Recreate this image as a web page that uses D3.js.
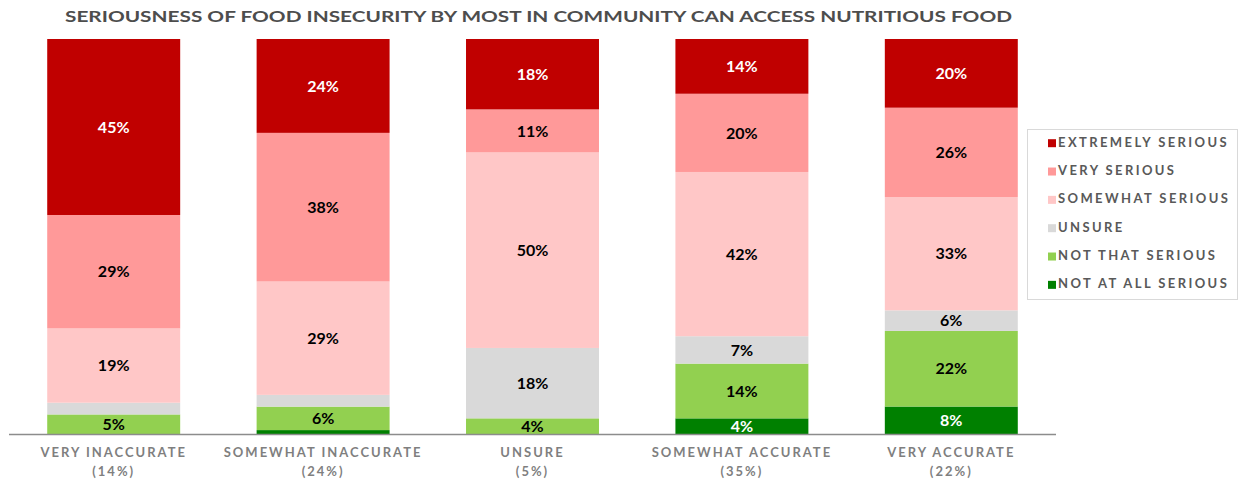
<!DOCTYPE html>
<html>
<head>
<meta charset="utf-8">
<script src="https://cdn.jsdelivr.net/npm/d3@7"></script>
<style>
  html, body { margin: 0; padding: 0; background: #fff; }
  svg { display: block; }
  text { font-family: Lato, "Open Sans", "Liberation Sans", sans-serif; font-weight: bold; }
</style>
</head>
<body>
<svg id="chart" width="1244" height="482"></svg>
<script>
// Categories: how accurately "most in community can access nutritious food" describes things
const categories = ["VERY INACCURATE", "SOMEWHAT INACCURATE", "UNSURE", "SOMEWHAT ACCURATE", "VERY ACCURATE"];
const categoryShares = ["(14%)", "(24%)", "(5%)", "(35%)", "(22%)"];

// Seriousness levels, bottom of stack to top
const seriesNames = ["NOT AT ALL SERIOUS", "NOT THAT SERIOUS", "UNSURE", "SOMEWHAT SERIOUS", "VERY SERIOUS", "EXTREMELY SERIOUS"];
const seriesColors = ["#008000", "#92D050", "#D9D9D9", "#FFC7C7", "#FF9999", "#C00000"];
const labelColors = ["#ffffff", "#000000", "#000000", "#000000", "#000000", "#ffffff"];

// Percent values per category, one array per seriousness level
const notAtAllSerious = [0, 1, 0, 4, 8];
const notThatSerious  = [5, 6, 4, 14, 22];
const unsureSerious   = [3, 3, 18, 7, 6];
const somewhatSerious = [19, 29, 50, 42, 33];
const verySerious     = [29, 38, 11, 20, 26];
const extremelySerious = [45, 24, 18, 14, 20];

const seriesValues = [notAtAllSerious, notThatSerious, unsureSerious, somewhatSerious, verySerious, extremelySerious];

const title = "SERIOUSNESS OF FOOD INSECURITY BY MOST IN COMMUNITY CAN ACCESS NUTRITIOUS FOOD";

// Build table rows for d3.stack
const rows = categories.map((c, i) => {
  const r = { category: c };
  seriesNames.forEach((s, j) => { r[s] = seriesValues[j][i]; });
  return r;
});

const svg = d3.select("#chart");

const x = d3.scaleBand()
  .domain(categories)
  .range([9, 1056])
  .paddingInner(0.365)
  .paddingOuter(0.1825);

const y = d3.scaleLinear().domain([0, 1]).range([434, 39]);

const stack = d3.stack()
  .keys(seriesNames)
  .offset(d3.stackOffsetExpand);

const stacked = stack(rows);

// Title
svg.append("text")
  .attr("x", 65)
  .attr("y", 22)
  .attr("font-size", 16)
  .attr("fill", "#4d4d4d")
  .attr("textLength", 947)
  .attr("lengthAdjust", "spacingAndGlyphs")
  .text(title);

// Stacked bars
const layers = svg.append("g").selectAll("g")
  .data(stacked)
  .join("g")
  .attr("fill", (d, i) => seriesColors[i]);

layers.selectAll("rect")
  .data(d => d)
  .join("rect")
  .attr("x", d => x(d.data.category))
  .attr("width", x.bandwidth())
  .attr("y", d => y(d[1]))
  .attr("height", d => Math.max(0, y(d[0]) - y(d[1])));

// Value labels (small slices left unlabeled)
const labelLayers = svg.append("g").selectAll("g")
  .data(stacked)
  .join("g")
  .attr("fill", (d, i) => labelColors[i]);

labelLayers.selectAll("text")
  .data(d => d.map(p => ({ p, key: d.key })))
  .join("text")
  .filter(d => d.p.data[d.key] >= 4)
  .attr("x", d => x(d.p.data.category) + x.bandwidth() / 2)
  .attr("y", d => (y(d.p[0]) + y(d.p[1])) / 2)
  .attr("dy", "0.36em")
  .attr("text-anchor", "middle")
  .attr("font-size", 16)
  .text(d => d.p.data[d.key] + "%");

// Baseline axis
const xAxis = svg.append("g")
  .attr("transform", "translate(0,434)")
  .call(d3.axisBottom(x).tickSize(0).tickFormat(""));
xAxis.select(".domain").attr("stroke", "#8c8c8c").attr("stroke-width", 1.5)
  .attr("d", "M9,0.5H1056");

// Category labels, two lines each
const catLabels = svg.append("g").selectAll("g")
  .data(categories)
  .join("g")
  .attr("transform", d => `translate(${x(d) + x.bandwidth() / 2},0)`);

catLabels.append("text")
  .attr("y", 457)
  .attr("text-anchor", "middle")
  .attr("font-size", 13)
  .attr("letter-spacing", 2)
  .attr("fill", "#7f7f7f")
  .text(d => d);

catLabels.append("text")
  .attr("y", 476)
  .attr("text-anchor", "middle")
  .attr("font-size", 13)
  .attr("letter-spacing", 2)
  .attr("fill", "#7f7f7f")
  .text((d, i) => categoryShares[i]);

// Legend
const legend = svg.append("g");
legend.append("rect")
  .attr("x", 1027.5).attr("y", 129.5)
  .attr("width", 210).attr("height", 170)
  .attr("fill", "#fff").attr("stroke", "#d9d9d9");

const legendOrder = seriesNames.slice().reverse();
const legendItems = legend.selectAll("g.item")
  .data(legendOrder)
  .join("g")
  .attr("class", "item")
  .attr("transform", (d, i) => `translate(0,${146.7 + i * 28.33})`);

legendItems.append("rect")
  .attr("x", 1048).attr("y", -7.5)
  .attr("width", 8).attr("height", 8)
  .attr("fill", d => seriesColors[seriesNames.indexOf(d)]);

legendItems.append("text")
  .attr("x", 1058)
  .attr("y", 0)
  .attr("font-size", 13)
  .attr("letter-spacing", 2.4)
  .attr("fill", "#595959")
  .text(d => d);
</script>
</body>
</html>
